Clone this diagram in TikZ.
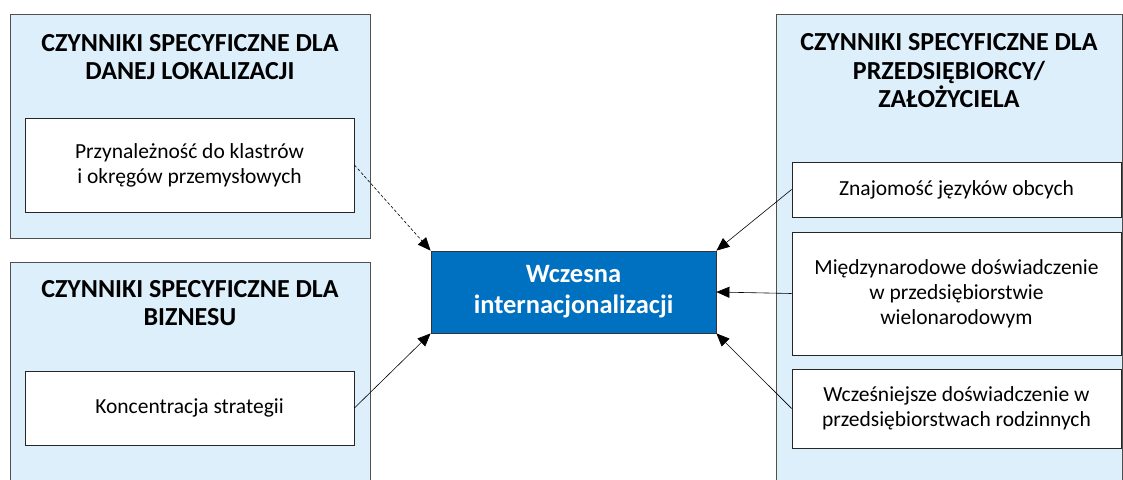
\documentclass[tikz,border=0pt]{standalone}
\usepackage{fontspec}
\setmainfont{Carlito}
\usetikzlibrary{arrows.meta}
\definecolor{panelfill}{RGB}{222,239,252}
\definecolor{paneledge}{RGB}{80,80,80}
\definecolor{corefill}{RGB}{0,112,192}
\tikzset{
  panel/.style={draw=paneledge, fill=panelfill, line width=0.9pt, anchor=north west, inner sep=0pt},
  paneltitle/.style={align=center, font=\fontsize{26}{28.5}\selectfont\bfseries, text=black},
  factor/.style={draw=black!85, fill=white, line width=0.8pt, align=center, inner sep=0pt,
    font=\fontsize{21.5}{25}\selectfont},
  core/.style={draw=black!80, fill=corefill, line width=0.8pt, align=center, inner sep=0pt,
    text=white, font=\fontsize{26.5}{31}\selectfont\bfseries},
  link/.style={-{Triangle[length=13pt,width=11pt]}, line width=0.6pt, black},
}
\begin{document}
\begin{tikzpicture}[x=1pt,y=-1pt]
\useasboundingbox (0,0) rectangle (1123,479);
\clip (0,0) rectangle (1123,479);
% outer panels
\node[panel, minimum width=360pt, minimum height=224pt] (locpanel) at (10,14) {};
\node[panel, minimum width=360pt, minimum height=240pt] (bizpanel) at (10,262) {};
\node[panel, minimum width=346pt, minimum height=480pt] (entpanel) at (776,14) {};
% panel titles
\node[paneltitle] (loctitle) at (190,57) {CZYNNIKI SPECYFICZNE DLA\\DANEJ LOKALIZACJI};
\node[paneltitle] (biztitle) at (190,303) {CZYNNIKI SPECYFICZNE DLA\\BIZNESU};
\node[paneltitle] (enttitle) at (949,71) {CZYNNIKI SPECYFICZNE DLA\\PRZEDSIĘBIORCY/\\ZAŁOŻYCIELA};
% factor boxes
\node[factor, minimum width=329pt, minimum height=94pt] (klastry) at (189.5,165) {Przynależność do klastrów\\i okręgów przemysłowych};
\node[factor, minimum width=329pt, minimum height=74pt] (strategia) at (189.5,408) {Koncentracja strategii};
\node[factor, minimum width=329pt, minimum height=55pt] (jezyki) at (956.5,189.5) {Znajomość języków obcych};
\node[factor, minimum width=329pt, minimum height=123pt] (miedzynar) at (956.5,293.5) {Międzynarodowe doświadczenie\\w przedsiębiorstwie\\wielonarodowym};
\node[factor, minimum width=329pt, minimum height=79pt] (rodzinne) at (956.5,408.5) {Wcześniejsze doświadczenie w\\przedsiębiorstwach rodzinnych};
% central outcome
\node[core, minimum width=285pt, minimum height=82pt] (wczesna) at (573.5,292) {Wczesna\\internacjonalizacji};
% connectors
\draw[link, dash pattern=on 3pt off 2pt] (klastry.east) -- (wczesna.north west);
\draw[link] (strategia.east) -- (wczesna.south west);
\draw[link] (jezyki.west) -- (wczesna.north east);
\draw[link] (miedzynar.west) -- (wczesna.east);
\draw[link] (rodzinne.west) -- (wczesna.south east);
\end{tikzpicture}
\end{document}
